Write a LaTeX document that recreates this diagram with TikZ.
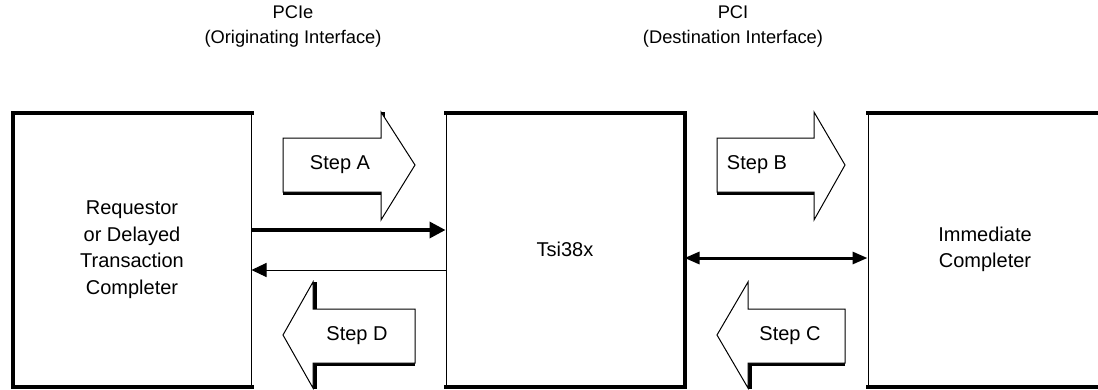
\documentclass[tikz,border=0pt]{standalone}
\usepackage{fontspec}
\setmainfont{Liberation Sans}
\usetikzlibrary{arrows.meta}
\newcommand\dfont{\fontsize{20}{26.5}\selectfont}
\newcommand\hfont{\fontsize{18.3}{25}\selectfont}
\begin{document}
\begin{tikzpicture}[x=1pt,y=-1pt,
  box/.style={draw, line width=1pt, align=center, inner sep=0pt, font=\dfont, minimum height=273pt},
  edge/.style={line width=4pt, line cap=rect},
  blk/.style={draw, fill=white, line width=1pt, line join=miter},
  shd/.style={line width=3.5pt},
  lbl/.style={font=\dfont, inner sep=0pt},
  hdr/.style={font=\hfont, align=center, inner sep=0pt},
  fatarr/.style={line width=3.5pt, -{Triangle[length=16pt,width=16pt]}},
  thinarr/.style={line width=1pt, -{Triangle[length=15pt,width=14pt]}},
  dblarr/.style={line width=3pt, {Triangle[length=15pt,width=12pt]}-{Triangle[length=15pt,width=12pt]}}]
\clip (0,0) rectangle (1098,389);
\useasboundingbox (0,0) rectangle (1098,389);

% headers
\node[hdr] (h1) at (293,27) {PCIe\\(Originating Interface)};
\node[hdr] (h2) at (733,27) {PCI\\(Destination Interface)};

% boxes
\node[box, minimum width=238pt] (L) at (132,249.5) {\raisebox{-4.5pt}{\parbox{200pt}{\centering Requestor\\or Delayed\\Transaction\\Completer}}};
\node[box, minimum width=238pt] (M) at (565,249.5) {Tsi38x};
\node[box, minimum width=234pt] (R) at (985,249.5) {Immediate\\Completer};

\draw[edge] (L.south west) -- (L.north west) -- (L.north east);
\draw[edge] (L.south west) -- (L.south east);
\draw[edge] (M.north west) -- (M.north east) -- (M.south east) -- (M.south west);
\draw[edge] (R.north west) -- (R.north east);
\draw[edge] (R.south west) -- (R.south east);

% line connectors
\draw[fatarr] (L.east |- 0,230) -- (M.west |- 0,230);
\draw[thinarr] (M.west |- 0,270) -- (L.east |- 0,270);
\draw[dblarr] (M.east |- 0,258) -- (R.west |- 0,258);

% Step A
\draw[shd] (383,112) -- (383,139.5);
\draw[shd] (283,193.5) -- (383,193.5) -- (383,207);
\draw[blk] (283,138) -- (381,138) -- (381,112) -- (415,165) -- (381,220) -- (381,192) -- (283,192) -- cycle;
\node[lbl] (sa) at (340,165) {Step A};

% Step B
\draw[shd] (717,193.5) -- (815.5,193.5);
\draw[blk] (717,138) -- (814,138) -- (814,112) -- (845,165) -- (814,220) -- (814,192) -- (717,192) -- cycle;
\node[lbl] (sb) at (757,165) {Step B};

% Step D
\draw[shd] (315,282) -- (315,310.5);
\draw[shd] (415,364.5) -- (315,364.5) -- (315,389);
\draw[blk] (415,309) -- (313,309) -- (313,282) -- (283,335) -- (313,388) -- (313,363) -- (415,363) -- cycle;
\node[lbl] (sd) at (357,336) {Step D};

% Step C
\draw[shd] (845,364.5) -- (750,364.5) -- (750,389);
\draw[blk] (845,309) -- (748,309) -- (748,282) -- (717,335) -- (748,388) -- (748,363) -- (845,363) -- cycle;
\node[lbl] (sc) at (790,336) {Step C};
\end{tikzpicture}
\end{document}
